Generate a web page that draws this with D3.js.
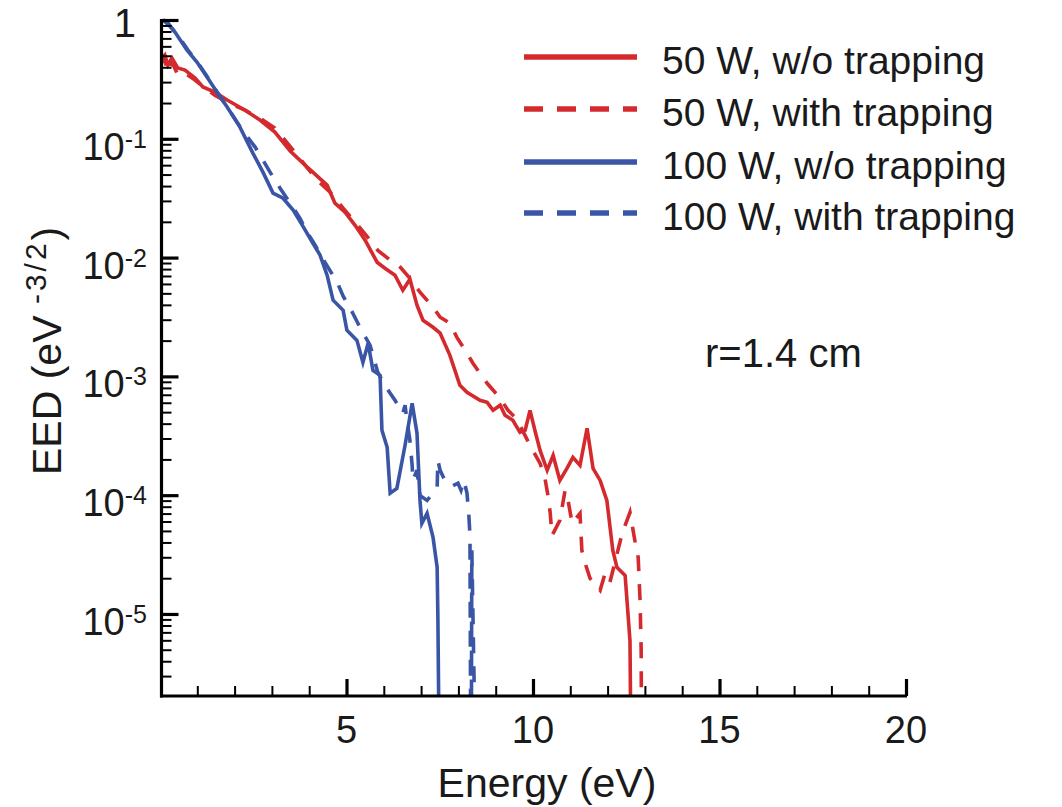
<!DOCTYPE html>
<html>
<head>
<meta charset="utf-8">
<script src="https://cdn.jsdelivr.net/npm/d3@7"></script>
<style>
  html, body { margin: 0; padding: 0; background: #fff; }
  svg { display: block; }
  text { font-family: "Liberation Sans", Arial, sans-serif; fill: #1a1a1a; }
</style>
</head>
<body>
<svg id="chart" width="1062" height="807"></svg>
<script>
// ---------------- DATA ----------------
// [Energy (eV), EED (eV^-3/2)]
const w50NoTrap = [
  [0.00,0.460],[0.13,0.507],[0.21,0.418],[0.32,0.479],[0.48,0.394],[0.67,0.379],[0.94,0.325],
  [1.15,0.273],[1.47,0.247],[1.80,0.212],[2.28,0.174],[2.68,0.144],[3.08,0.114],[3.49,0.0790],
  [3.94,0.0580],[4.48,0.0407],[4.69,0.0287],[4.96,0.0241],[5.23,0.0187],[5.50,0.0140],
  [5.82,0.00914],[6.03,0.00814],[6.30,0.00711],[6.51,0.00531],[6.70,0.00658],[6.89,0.00397],
  [7.05,0.00297],[7.32,0.00259],[7.51,0.00231],[7.77,0.00151],[8.04,0.000841],[8.23,0.000734],
  [8.58,0.000629],[8.77,0.000605],[8.93,0.000518],[9.12,0.000571],[9.25,0.000470],[9.46,0.000427],
  [9.65,0.000338],[9.79,0.000352],[9.92,0.000518],[10.05,0.000352],[10.19,0.000238],[10.38,0.000162],
  [10.54,0.000216],[10.72,0.000133],[10.91,0.000168],[11.07,0.000208],[11.26,0.000178],[11.45,0.000366],
  [11.61,0.000168],[11.80,0.000133],[11.98,0.0000904],[12.14,0.0000343],[12.25,0.0000247],
  [12.47,0.0000211],[12.60,0.00000598],[12.65,1e-7]
];
const w50Trap = [
  [0.00,0.418],[0.11,0.479],[0.21,0.365],[0.32,0.443],[0.48,0.344],[0.67,0.357],[0.94,0.312],
  [1.21,0.267],[1.47,0.233],[1.80,0.204],[2.28,0.174],[2.68,0.149],[3.08,0.123],[3.57,0.0803],
  [3.89,0.0600],[4.21,0.0449],[4.56,0.0356],[4.91,0.0261],[5.23,0.0199],[5.55,0.0151],[5.84,0.0115],
  [6.17,0.00951],[6.35,0.00897],[6.70,0.00670],[6.97,0.00511],[7.32,0.00382],[7.51,0.00315],
  [7.77,0.00280],[7.96,0.00213],[8.23,0.00157],[8.39,0.00129],[8.58,0.00106],[8.77,0.000875],
  [9.12,0.000654],[9.33,0.000518],[9.52,0.000452],[9.65,0.000387],[9.92,0.000263],[10.19,0.000185],
  [10.32,0.000139],[10.40,0.0000996],[10.46,0.0000716],[10.51,0.0000458],[10.72,0.0000613],
  [10.86,0.000110],[10.94,0.0000904],[11.05,0.0000578],[11.26,0.0000703],[11.31,0.0000343],
  [11.39,0.0000272],[11.53,0.0000199],[11.80,0.0000158],[11.93,0.0000219],[12.06,0.0000184],
  [12.39,0.0000476],[12.60,0.0000716],[12.73,0.0000416],[12.82,0.0000299],[12.87,0.0000130],
  [12.90,0.00000493],[12.92,1e-7]
];
const w100NoTrap = [
  [0.08,1.0],[0.19,0.962],[0.40,0.792],[0.72,0.559],[0.99,0.443],[1.26,0.331],[1.53,0.247],
  [1.80,0.185],[2.14,0.126],[2.49,0.0758],[2.76,0.0524],[3.03,0.0349],[3.30,0.0316],[3.57,0.0251],
  [3.83,0.0184],[4.10,0.0132],[4.29,0.0105],[4.48,0.00711],[4.64,0.00438],[4.91,0.00360],
  [5.01,0.00245],[5.28,0.00201],[5.44,0.00131],[5.58,0.00190],[5.71,0.00112],[5.90,0.00102],
  [5.95,0.000352],[6.09,0.000253],[6.17,0.000104],[6.35,0.000114],[6.57,0.000263],[6.76,0.000593],
  [6.89,0.000332],[6.97,0.0000904],[7.02,0.0000578],[7.16,0.0000703],[7.32,0.0000441],
  [7.43,0.0000247],[7.45,0.00000934],[7.51,1e-7]
];
const w100Trap = [
  [0.08,1.0],[0.21,0.925],[0.43,0.777],[0.75,0.559],[1.02,0.434],[1.29,0.325],[1.55,0.243],
  [1.82,0.181],[2.17,0.123],[2.55,0.0851],[2.76,0.0662],[2.95,0.0524],[3.22,0.0384],[3.49,0.0287],
  [3.75,0.0215],[3.94,0.0164],[4.16,0.0127],[4.42,0.00914],[4.75,0.00621],[4.91,0.00473],
  [5.17,0.00340],[5.36,0.00259],[5.63,0.00183],[5.84,0.00108],[6.03,0.000841],[6.17,0.000721],
  [6.30,0.000629],[6.43,0.000538],[6.51,0.000489],[6.57,0.000571],[6.62,0.000427],[6.70,0.000290],
  [6.76,0.000178],[6.78,0.000133],[6.89,0.000162],[6.97,0.0000996],[7.16,0.0000904],[7.32,0.000104],
  [7.43,0.000116],[7.45,0.000196],[7.51,0.000162],[7.61,0.000139],[7.69,0.000126],[7.83,0.000119],
  [7.99,0.000126],[8.07,0.000110],[8.15,0.000133],[8.23,0.000104],[8.28,0.0000676],[8.31,0.0000458],
  [8.34,1e-7],[8.36,0.0000343],[8.50,1e-7]
];

const seriesNames = ["50 W, w/o trapping", "50 W, with trapping", "100 W, w/o trapping", "100 W, with trapping"];
const seriesData = [w50NoTrap, w50Trap, w100NoTrap, w100Trap];
const xMajorTicks = [5, 10, 15, 20];
const xMinorTicks = [1,2,3,4,6,7,8,9,11,12,13,14,16,17,18,19];
const yMajorTicks = [1, 1e-1, 1e-2, 1e-3, 1e-4, 1e-5];
const yTickExponents = [0, -1, -2, -3, -4, -5];
const xTitle = "Energy (eV)";
const annotation = "r=1.4 cm";

// ---------------- STYLE ----------------
const RED = "#d42a2e", BLUE = "#3a55a6";
const colors = [RED, RED, BLUE, BLUE];
const dashed = [false, true, false, true];

const svg = d3.select("#chart");
svg.append("rect").attr("width", 1062).attr("height", 807).attr("fill", "#fff");

const x = d3.scaleLinear().domain([0, 20]).range([160, 906]);
const y = d3.scaleLog().domain([2e-6, 1]).range([697, 20]);

// minor y ticks
const yMinor = [];
for (let e = -6; e <= -1; e++) for (let k = 2; k <= 9; k++) {
  const v = k * Math.pow(10, e);
  if (v > 2.05e-6 && v < 1) yMinor.push(v);
}

// clip
svg.append("clipPath").attr("id", "clip")
  .append("rect").attr("x", 160).attr("y", 8).attr("width", 746).attr("height", 689);

// curves
const line = d3.line().x(d => x(d[0])).y(d => y(Math.max(d[1], 1e-9)));
const gLines = svg.append("g").attr("clip-path", "url(#clip)");
seriesData.forEach((s, i) => {
  gLines.append("path")
    .attr("d", line(s))
    .attr("fill", "none")
    .attr("stroke", colors[i])
    .attr("stroke-width", 3.6)
    .attr("stroke-linejoin", "miter")
    .attr("stroke-dasharray", dashed[i] ? "16,13" : null);
});

// axes
function styleAxis(g, w) {
  g.select(".domain").remove();
  g.selectAll(".tick line").attr("stroke", "#000").attr("stroke-width", w);
}
svg.append("g").attr("transform", "translate(161.5,0)")
  .call(d3.axisLeft(y).tickValues(yMinor).tickSize(-10).tickFormat(""))
  .call(g => styleAxis(g, 2));
svg.append("g").attr("transform", "translate(161.5,0)")
  .call(d3.axisLeft(y).tickValues(yMajorTicks).tickSize(-17).tickFormat(""))
  .call(g => styleAxis(g, 3.2));
svg.append("g").attr("transform", "translate(0,696)")
  .call(d3.axisBottom(x).tickValues(xMinorTicks).tickSize(-10).tickFormat(""))
  .call(g => styleAxis(g, 2));
svg.append("g").attr("transform", "translate(0,696)")
  .call(d3.axisBottom(x).tickValues(xMajorTicks).tickSize(-17).tickFormat(""))
  .call(g => styleAxis(g, 3.2));

// axis lines
svg.append("line").attr("x1", 161.5).attr("x2", 161.5).attr("y1", 19).attr("y2", 697.5)
  .attr("stroke", "#000").attr("stroke-width", 3.2);
svg.append("line").attr("x1", 160).attr("x2", 907).attr("y1", 696).attr("y2", 696)
  .attr("stroke", "#000").attr("stroke-width", 3.2);

// x tick labels
svg.append("g").selectAll("text").data(xMajorTicks).join("text")
  .attr("x", d => x(d)).attr("y", 743)
  .attr("text-anchor", "middle").attr("font-size", 38)
  .text(d => d);

// y tick labels
yMajorTicks.forEach((v, i) => {
  const ex = yTickExponents[i];
  if (ex === 0) {
    svg.append("text").attr("x", 136).attr("y", y(v) + 17)
      .attr("text-anchor", "end").attr("font-size", 40).text("1");
  } else {
    const t = svg.append("text").attr("x", 147).attr("y", y(v) + 21)
      .attr("text-anchor", "end").attr("font-size", 38);
    t.append("tspan").text("10");
    t.append("tspan").attr("font-size", 25).attr("dy", -12).text(String(ex));
  }
});

// x title
svg.append("text").attr("x", 547).attr("y", 797).attr("text-anchor", "middle")
  .attr("font-size", 41).text(xTitle);

// y title
const yt = svg.append("text")
  .attr("transform", "translate(61,475) rotate(-90)")
  .attr("text-anchor", "start").attr("font-size", 41);
yt.append("tspan").text("EED (eV ");
yt.append("tspan").attr("font-size", 30).attr("letter-spacing", 3).attr("dy", -15).text("-3/2");
yt.append("tspan").attr("dy", 15).attr("letter-spacing", 0).text(")");

// legend
const legendY = [57, 109, 162, 213];
seriesNames.forEach((name, i) => {
  svg.append("line").attr("x1", 524).attr("x2", 637)
    .attr("y1", legendY[i]).attr("y2", legendY[i])
    .attr("stroke", colors[i]).attr("stroke-width", 5.5)
    .attr("stroke-dasharray", dashed[i] ? "19,14" : null);
  svg.append("text").attr("x", 662).attr("y", legendY[i] + 17)
    .attr("font-size", 39).text(name);
});

// annotation
svg.append("text").attr("x", 705).attr("y", 367).attr("font-size", 40).text(annotation);
</script>
</body>
</html>
